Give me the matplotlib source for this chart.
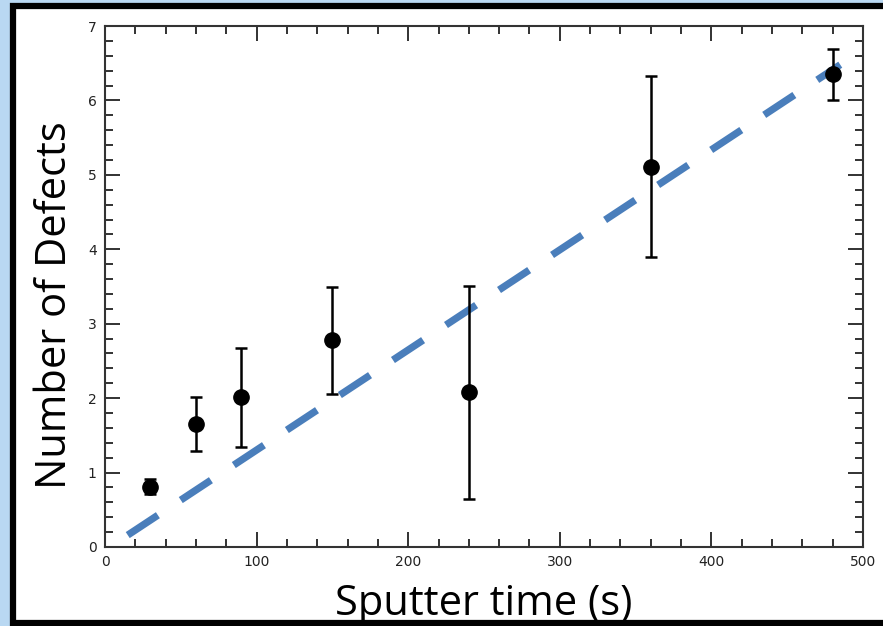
import matplotlib.pyplot as plt
from matplotlib.patches import Rectangle
from matplotlib.ticker import MultipleLocator

# measured points with error bars
sputter_time = [30, 60, 90, 150, 240, 360, 480]
defects = [0.81, 1.65, 2.01, 2.78, 2.08, 5.11, 6.35]
defects_err = [0.10, 0.36, 0.67, 0.72, 1.43, 1.22, 0.34]

# linear fit (dashed)
fit_x = [15, 485]
fit_y = [0.16, 6.48]

fig = plt.figure(figsize=(8.83, 6.26), dpi=100)
fig.patch.set_facecolor('#b9d8f2')
# white slide panel with black frame
fig.add_artist(Rectangle((13 / 883, 1 - 623 / 626), 1.0, 617 / 626,
                         transform=fig.transFigure, facecolor='white',
                         edgecolor='black', linewidth=4.5, zorder=-5))

ax = fig.add_axes([105 / 883, 1 - 547 / 626, 758 / 883, 521 / 626])
ax.set_zorder(2)
ax.set_facecolor('white')

ax.plot(fit_x, fit_y, color='#4a7ebb', linewidth=5.2,
        dashes=(5.0, 3.8), dash_capstyle='butt', zorder=3)
ax.errorbar(sputter_time, defects, yerr=defects_err, fmt='o', color='black',
            markersize=11, elinewidth=1.8, capsize=4.5, capthick=1.8, zorder=4)

ax.set_xlim(0, 500)
ax.set_ylim(0, 7)
ax.xaxis.set_major_locator(MultipleLocator(100))
ax.xaxis.set_minor_locator(MultipleLocator(20))
ax.yaxis.set_major_locator(MultipleLocator(1))
ax.yaxis.set_minor_locator(MultipleLocator(0.2))
ax.tick_params(which='both', direction='in', top=True, right=True,
               labelsize=10, colors='#222222', width=1.3)
ax.tick_params(which='major', length=11, pad=6)
ax.tick_params(which='minor', length=6)
for sp in ax.spines.values():
    sp.set_linewidth(1.5)
    sp.set_color('#333333')

ax.set_xlabel('Sputter time (s)', fontsize=30, family='Open Sans', labelpad=10)
ax.set_ylabel('Number of Defects', fontsize=30, family='Open Sans')
ax.yaxis.set_label_coords(-0.038, 0.464)

fig.savefig('out.png', dpi=100, facecolor=fig.get_facecolor())
